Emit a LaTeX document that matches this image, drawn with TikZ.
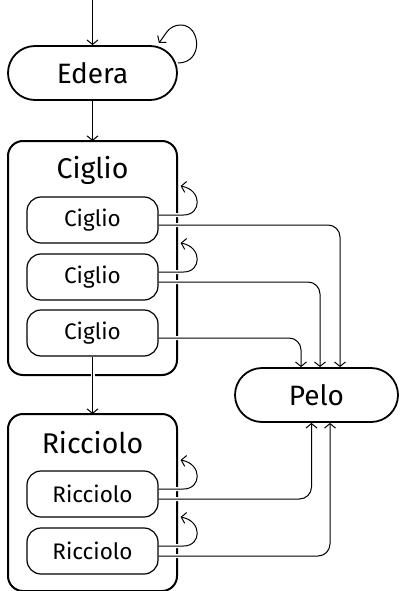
\documentclass[tikz,border=0pt]{standalone}
\usepackage{fontspec}
\setmainfont{Fira Sans}
\usetikzlibrary{arrows.meta,shapes.misc,calc}
\begin{document}
\begin{tikzpicture}[x=1pt,y=-1pt,
  tip/.style={-{Straight Barb[length=4.5pt,width=11pt,line width=1pt]}},
  conn/.style={tip,line width=1pt,
    preaction={draw=white,line width=4pt,-,shorten <=1.5pt,shorten >=7pt}},
  bigstate/.style={rounded rectangle,draw,line width=1.8pt,minimum width=169pt,minimum height=54pt,font=\fontsize{28}{30}\selectfont,inner sep=0pt},
  container/.style={draw,line width=2pt,rounded corners=15pt},
  inner/.style={draw,line width=1.2pt,rounded corners=14pt,minimum width=131pt,minimum height=46pt,font=\fontsize{22.5}{24}\selectfont,inner sep=0pt,fill=white},
  title/.style={font=\fontsize{28.5}{30}\selectfont,inner sep=0pt}
]
\useasboundingbox (0,0) rectangle (401,591);
\node[bigstate] (edera) at (92.5,73) {Edera};
\coordinate (start) at (92.5,0);
\draw[container] (8,141) rectangle (177,375);
\coordinate (cigC) at (92.5,141);
\node[title] (cigT) at (92.5,170) {Ciglio};
\node[inner] (c1) at (92.5,220) {Ciglio};
\node[inner] (c2) at (92.5,277) {Ciglio};
\node[inner] (c3) at (92.5,333) {Ciglio};
\draw[container] (8,414) rectangle (177,591);
\coordinate (ricC) at (92.5,414);
\node[title] (ricT) at (92.5,443) {Ricciolo};
\node[inner] (r1) at (92.5,494) {Ricciolo};
\node[inner] (r2) at (92.5,551) {Ricciolo};
\node[bigstate,minimum width=163pt] (pelo) at (316.5,395) {Pelo};

% arrows
\draw[conn] (start) -- (edera.north);
\draw[conn] (edera.south) -- (cigC);
\draw[conn] (c3.south) -- (ricC);
\draw[conn] ($(edera.east)+(0,-10)$) .. controls +(26,0) and +(20,0) .. ($(edera.east)+(3,-48)$)
   .. controls +(-12,0) and +(7,-9) .. ($(edera.east)+(-19,-30)$);

% self loops
\foreach \n in {c1,c2,r1,r2}{
  \draw[conn] ($(\n.east)+(0,-5)$) -- ++(25,0) .. controls +(18,0) and +(22,4) .. ($(\n.east)+(22,-34)$);
}
% to Pelo
\begin{scope}[rounded corners=12pt]
\draw[conn] ($(c1.east)+(0,5)$) -| ($(pelo.north)+(23.5,0)$);
\draw[conn] ($(c2.east)+(0,5)$) -| ($(pelo.north)+(3.5,0)$);
\draw[conn] ($(c3.east)+(0,5)$) -| ($(pelo.north)+(-15.5,0)$);
\draw[conn] ($(r1.east)+(0,5)$) -| ($(pelo.south)+(-5,0)$);
\draw[conn] ($(r2.east)+(0,5)$) -| ($(pelo.south)+(13.5,0)$);
\end{scope}
\end{tikzpicture}
\end{document}
